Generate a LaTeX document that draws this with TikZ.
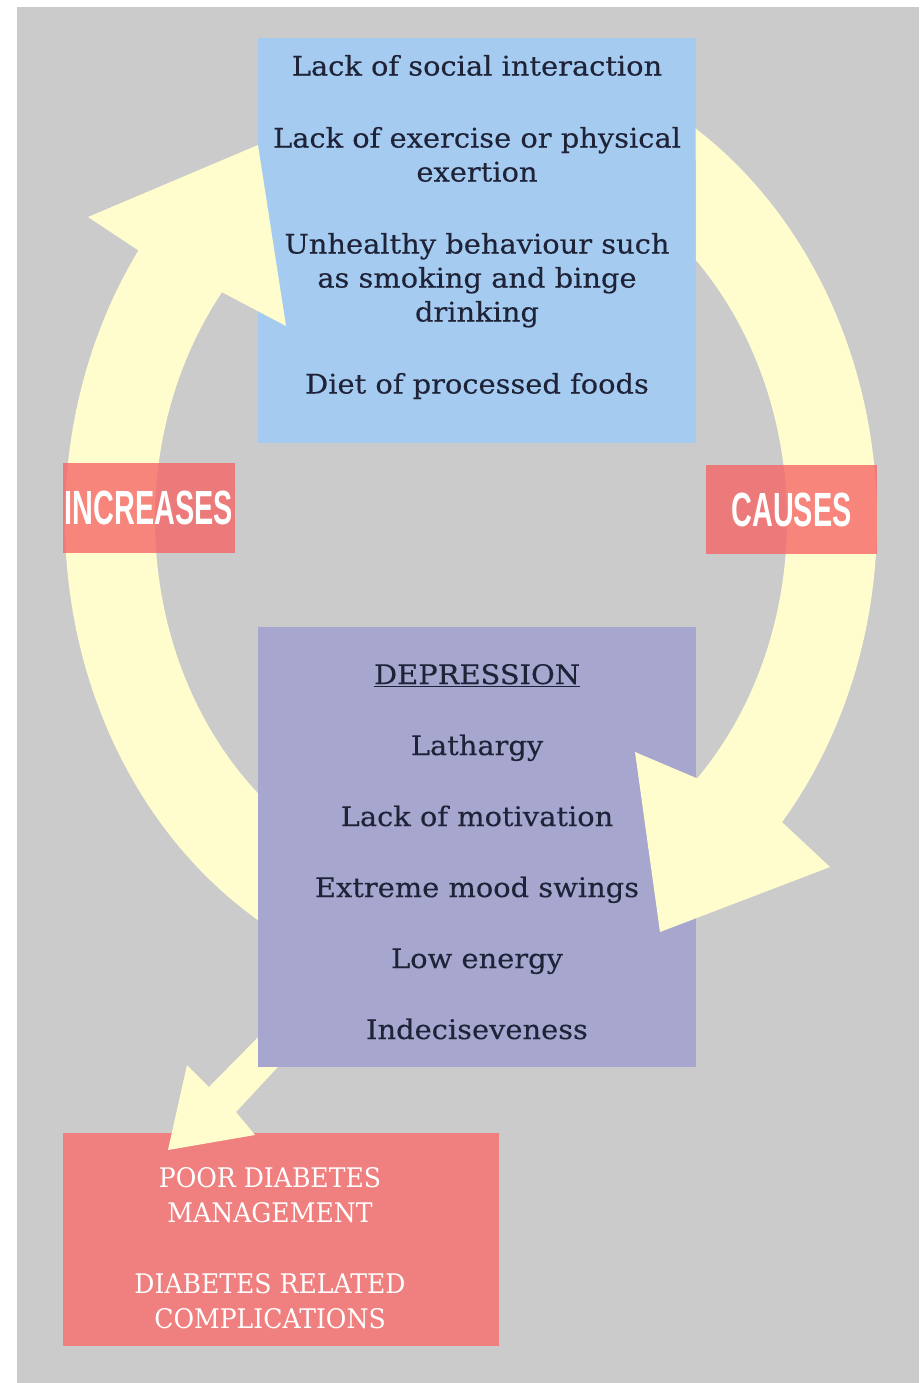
\documentclass[tikz,border=0pt]{standalone}
\usepackage{fontspec}
\usepackage{xcolor}
\usetikzlibrary{positioning,calc}
\newfontfamily\boxfont{DejaVu Serif}[FakeStretch=1.07,FakeBold=0.3]
\newfontfamily\outfont{DejaVu Serif}[FakeStretch=0.93]
\newfontfamily\tagfont{Liberation Sans}[FakeStretch=0.6]

\begin{document}
\begin{tikzpicture}[x=1pt,y=-1pt,
  box/.style={rectangle,inner sep=0pt,minimum width=438pt},
  boxtext/.style={align=center,inner sep=0pt,text=ink,font=\boxfont\fontsize{27}{34}\selectfont},
  tag/.style={rectangle,inner sep=0pt,fill=tagred,fill opacity=0.78,text opacity=1,text=white,font=\tagfont\bfseries\fontsize{48}{48}\selectfont},
  bandarrow/.style={fill=pale}]
% Define colours
\definecolor{backdrop}{RGB}{203,203,203}
\definecolor{pale}{RGB}{255,253,206}
\definecolor{riskblue}{RGB}{166,203,240}
\definecolor{deppurple}{RGB}{166,166,207}
\definecolor{outred}{RGB}{240,128,128}
\definecolor{tagred}{RGB}{246,100,100}
\definecolor{ink}{RGB}{31,35,56}

% Canvas
\useasboundingbox (0,0) rectangle (919,1383);
\fill[white] (0,0) rectangle (919,1383);
\fill[backdrop] (17,7) rectangle (919,1383);
\coordinate (hub) at (471,520);

% Outcome box and the arrow into it
\node[box,fill=outred,minimum width=436pt,minimum height=213pt] (outcome) at (281,1239.5) {};
\fill[bandarrow] (278,1017) -- (209,1087) -- (187,1065) -- (168,1150) -- (255,1135) -- (236,1112) -- (302,1041) -- cycle;

% Risk factors
\node[box,fill=riskblue,minimum height=405pt] (risks) at (477,240.5) {};

% Increases loop
\fill[bandarrow] ($(hub)+(120:406 and 470)$) arc[start angle=120,end angle=215,x radius=406,y radius=470]
  -- (88,217) -- (258,145) -- (286,326)
  -- ($(hub)+(218:316 and 370)$) arc[start angle=218,end angle=130,x radius=316,y radius=370] -- cycle;

% Depression
\node[box,fill=deppurple,minimum height=440pt] (depression) at (477,847) {};

% Causes loop
\fill[bandarrow] ($(hub)+(-56.4:406 and 470)$) arc[start angle=-56.4,end angle=40,x radius=406,y radius=470]
  -- (830,867) -- (660,932) -- (635,752)
  -- ($(hub)+(44.3:316 and 370)$) arc[start angle=44.3,end angle=-44.6,x radius=316,y radius=370] -- cycle;

% Labels on the loops
\node[tag,minimum width=172pt,minimum height=90pt] (increases) at (149,508) {INCREASES};
\node[tag,minimum width=171pt,minimum height=89pt] (causes) at (791.5,509.5) {CAUSES};

% Texts
\node[boxtext,anchor=north] (risklist) at ($(risks.north)+(0,17)$) {Lack of social interaction\\[38pt]
  Lack of exercise or physical\\ exertion\\[38pt]
  Unhealthy behaviour such\\ as smoking and binge\\ drinking\\[38pt]
  Diet of processed foods};
\node[boxtext,anchor=north] (symptoms) at ($(depression.north)+(0,37)$) {\underline{DEPRESSION}\\[37pt]
  Lathargy\\[37pt] Lack of motivation\\[37pt] Extreme mood swings\\[37pt] Low energy\\[37pt] Indeciseveness};
\node[boxtext,anchor=north,text=white,font=\outfont\fontsize{27}{35}\selectfont] (results) at (270,1167) {POOR DIABETES\\ MANAGEMENT\\[36pt]
  DIABETES RELATED\\ COMPLICATIONS};
\end{tikzpicture}
\end{document}
